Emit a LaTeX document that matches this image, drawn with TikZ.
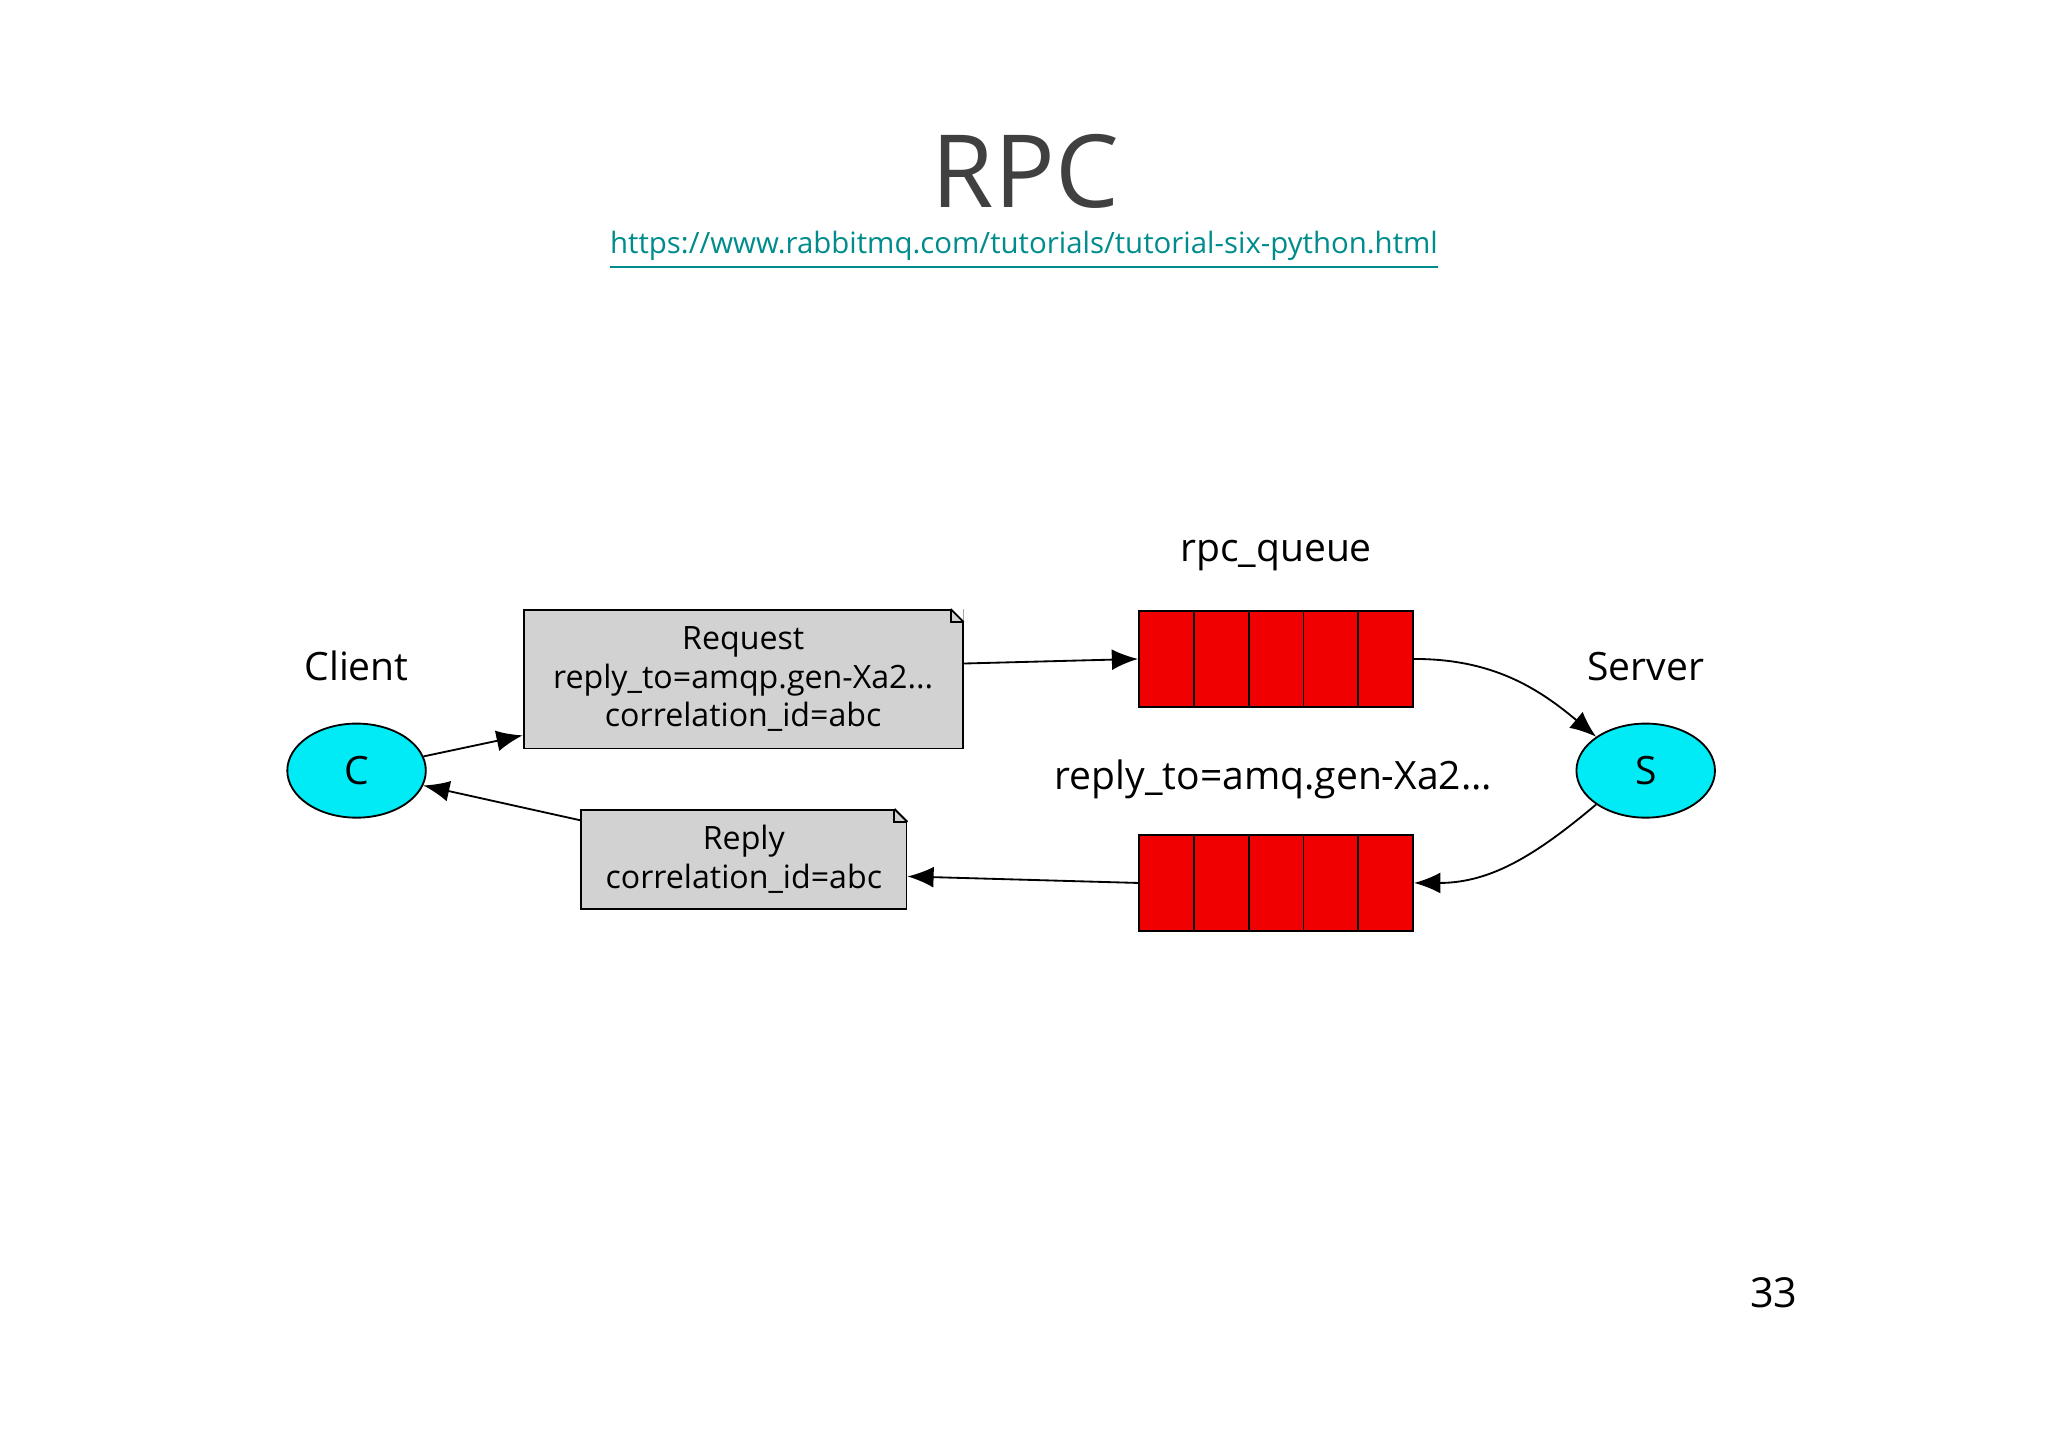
\documentclass[tikz,border=0pt]{standalone}
\usepackage{fontspec}
\setmainfont{Open Sans}
\usetikzlibrary{calc}
\usetikzlibrary{positioning}
\usetikzlibrary{arrows.meta}
\usetikzlibrary{shapes.geometric}
\definecolor{titlegray}{RGB}{64,64,64}
\definecolor{linkteal}{RGB}{0,140,140}
\definecolor{msggray}{RGB}{210,210,210}
\definecolor{qred}{RGB}{240,0,0}
\definecolor{proccyan}{RGB}{0,235,245}
\tikzstyle{proc} = [draw, fill=proccyan, ellipse, minimum width=1.06cm, minimum height=0.72cm, inner sep=0pt, font=\fontsize{8.5}{10}\selectfont]
\tikzstyle{msg} = [draw, fill=msggray, inner sep=0pt, align=center, font=\fontsize{7}{8.4}\selectfont]
\tikzstyle{lbl} = [font=\fontsize{8.5}{10}\selectfont]
\tikzstyle{cell} = [draw, fill=qred, minimum width=0.42cm, minimum height=0.73cm, inner sep=0pt]
\tikzstyle{arr} = [-{Latex[length=2mm,width=1.6mm]}, thin]
\begin{document}
\begin{tikzpicture}[x=0.01cm, y=-0.01cm]
  \useasboundingbox (0,0) rectangle (1568,1108);
  \node[text=titlegray, font=\fontsize{22}{26}\selectfont] (title) at (785,131) {RPC};
  \node[text=linkteal, font=\fontsize{6.4}{8}\selectfont] (url) at (784,192) {\underline{https://www.rabbitmq.com/tutorials/tutorial-six-python.html}};

  \node[proc] (C) at (273,590) {C};
  \node[lbl] (client) at (273,510) {Client};
  \node[proc] (S) at (1260,590) {S};
  \node[lbl] (server) at (1260,510) {Server};

  \node[msg, minimum width=3.36cm, minimum height=1.06cm] (req) at (569,520) {Request\\reply\_to=amqp.gen-Xa2...\\correlation\_id=abc};
  \node[msg, minimum width=2.49cm, minimum height=0.76cm] (rep) at (569.5,658) {Reply\\correlation\_id=abc};
  % folded corners
  \foreach \m in {req, rep} {
    \fill[white] ($(\m.north east)+(-10,0)$) -- (\m.north east) -- ($(\m.north east)+(0,10)$) -- cycle;
    \draw ($(\m.north east)+(-10,0)$) -- ($(\m.north east)+(-10,10)$) -- ($(\m.north east)+(0,10)$);
    \draw ($(\m.north east)+(-10,0)$) -- ($(\m.north east)+(0,10)$);
  }

  % queues
  \foreach \i in {0,...,4} {
    \node[cell] (qa\i) at (893+\i*42,504.5) {};
    \node[cell] (qb\i) at (893+\i*42,676) {};
  }
  \node[lbl] (rpcq) at (977,425) {rpc\_queue};
  \node[lbl] (replyto) at (975,597) {reply\_to=amq.gen-Xa2...};

  \draw[arr] (C) -- (req.south west |- 0,563);
  \draw[arr] (req.east |- 0,508) -- (qa0.west);
  \draw[arr] (qa4.east) to[out=0, in=140] (S.north west);
  \draw[arr] (S.south west) to[out=-140, in=0] (qb4.east);
  \draw[arr] (qb0.west) -- (rep.east |- 0,671);
  \draw[arr] (rep.west |- 0,628) -- (C);

  \node[font=\fontsize{9}{11}\selectfont] (page) at (1358,990) {33};
\end{tikzpicture}
\end{document}
